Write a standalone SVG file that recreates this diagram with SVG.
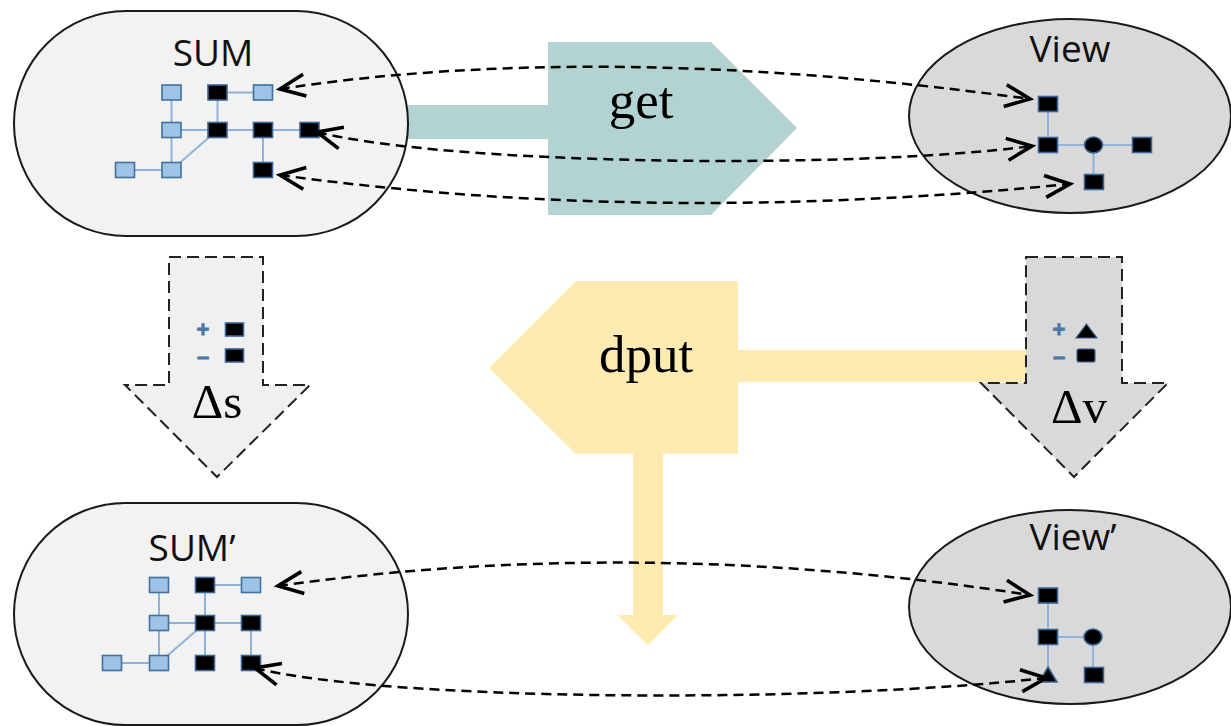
<svg xmlns="http://www.w3.org/2000/svg" width="1231" height="726" viewBox="0 0 1231 726">
<defs>
<style>
.sum{fill:#f2f2f2;stroke:#1a1a1a;stroke-width:2}
.view{fill:#d9d9d9;stroke:#1a1a1a;stroke-width:2}
.lbl{font-family:"Open Sans","Noto Sans",sans-serif;font-size:37px;fill:#111;text-anchor:middle}
.big{font-family:"Liberation Serif",serif;font-size:53px;fill:#000;text-anchor:middle}
.delta{font-family:"Liberation Serif",serif;font-size:49px;fill:#000;text-anchor:middle}
.e{stroke:#8fb3da;stroke-width:2;fill:none}
.b{fill:#9dc3e6;stroke:#41719c;stroke-width:1.6}
.k{fill:#000;stroke:#3b6494;stroke-width:1.6}
.conn{fill:none;stroke:#000;stroke-width:2.5;stroke-dasharray:10 6;marker-start:url(#chev);marker-end:url(#chev)}
.dash{stroke:#222;stroke-width:2;stroke-dasharray:12 6}
.pm{font-family:"Liberation Sans",sans-serif;font-size:22px;font-weight:bold;fill:#4a78a8;text-anchor:middle;stroke:#4a78a8;stroke-width:0.8}
</style>
<marker id="chev" viewBox="-30 -16 34 32" refX="0" refY="0" markerWidth="34" markerHeight="32" markerUnits="userSpaceOnUse" orient="auto-start-reverse">
<path d="M-25,-11 L0,0 L-25,11" fill="none" stroke="#000" stroke-width="3.6" stroke-dasharray="none"/>
</marker>
</defs>

<g id="get">
<rect x="400" y="105" width="150" height="34" fill="#b3d3d3"/>
<polygon points="548,42 711,42 797,128 711,215 548,215" fill="#b3d3d3"/>
<text class="big" x="641" y="118">get</text>
</g>

<g id="dput">
<rect x="736" y="350" width="290" height="32" fill="#ffeab2"/>
<rect x="633" y="452" width="30" height="164" fill="#ffeab2"/>
<polygon points="617,615 678,615 648,645" fill="#ffeab2"/>
<polygon points="489,368 576,281 738,281 738,454 576,454" fill="#ffeab2"/>
<text class="big" x="646" y="372">dput</text>
</g>

<g id="SUM">
<rect class="sum" x="14" y="11" width="394" height="225" rx="112" ry="112"/>
<text class="lbl" x="213" y="66">SUM</text>
<path class="e" d="M171.5,92.5 V170 M171.5,130 H309.5 M217.5,92.5 V130 M217.5,92.5 H263 M263,130 V170 M125,170 H171.5 M171.5,170 L217.5,130"/>
<rect class="b" x="162" y="85" width="19" height="15"/>
<rect class="k" x="208" y="85" width="19" height="15"/>
<rect class="b" x="253.5" y="85" width="19" height="15"/>
<rect class="b" x="162" y="122.5" width="19" height="15"/>
<rect class="k" x="208" y="122.5" width="19" height="15"/>
<rect class="k" x="253.5" y="122.5" width="19" height="15"/>
<rect class="k" x="300" y="122.5" width="19" height="15"/>
<rect class="b" x="115.5" y="162.5" width="19" height="15"/>
<rect class="b" x="162" y="162.5" width="19" height="15"/>
<rect class="k" x="253.5" y="162.5" width="19" height="15"/>
</g>

<g id="View">
<ellipse class="view" cx="1070" cy="116" rx="161" ry="97"/>
<text class="lbl" x="1070" y="62">View</text>
<path class="e" d="M1048,104 V145 M1048,145 H1142 M1093.5,145 V182"/>
<rect class="k" x="1038.5" y="96.5" width="19" height="15"/>
<rect class="k" x="1038.5" y="137.5" width="19" height="15"/>
<ellipse cx="1093.5" cy="145" rx="9" ry="8" fill="#000" stroke="#3b6494" stroke-width="1.6"/>
<rect class="k" x="1132.5" y="137.5" width="19" height="15"/>
<rect class="k" x="1084.5" y="174.5" width="19" height="15"/>
</g>

<g id="delta-s">
<polygon class="dash" points="169,257 263,257 263,385 310,385 217,477 125,385 169,385" fill="#f0f0f0"/>
<text class="pm" x="203" y="337">+</text>
<text class="pm" x="203" y="364">–</text>
<rect class="k" x="225.5" y="323" width="18" height="13"/>
<rect class="k" x="225.5" y="349" width="18" height="13"/>
<text class="delta" x="217" y="418">Δs</text>
</g>

<g id="delta-v">
<polygon class="dash" points="1026,257 1122,257 1122,383 1168,383 1074,477 981,383 1026,383" fill="#d9d9d9"/>
<text class="pm" x="1059" y="337">+</text>
<text class="pm" x="1059" y="364">–</text>
<polygon points="1086.5,324 1097,338 1076,338" fill="#000" stroke="#3b6494" stroke-width="1.2"/>
<rect x="1077" y="349" width="18" height="13" rx="2" fill="#000" stroke="#3b6494" stroke-width="1.2"/>
<text class="delta" x="1079" y="423">Δv</text>
</g>

<g id="SUM2">
<rect class="sum" x="14" y="503" width="394" height="222" rx="111" ry="111"/>
<text class="lbl" x="192" y="561">SUM’</text>
<path class="e" d="M159,585 V663 M159,623 H251 M205,585 V663 M205,585 H251 M251,623 V663 M112,663 H159 M159,663 L205,623"/>
<rect class="b" x="149.5" y="577.5" width="19" height="15"/>
<rect class="k" x="195.5" y="577.5" width="19" height="15"/>
<rect class="b" x="241.5" y="577.5" width="19" height="15"/>
<rect class="b" x="149.5" y="615.5" width="19" height="15"/>
<rect class="k" x="195.5" y="615.5" width="19" height="15"/>
<rect class="k" x="241.5" y="615.5" width="19" height="15"/>
<rect class="b" x="102.5" y="655.5" width="19" height="15"/>
<rect class="b" x="149.5" y="655.5" width="19" height="15"/>
<rect class="k" x="195.5" y="655.5" width="19" height="15"/>
<rect class="k" x="241.5" y="655.5" width="19" height="15"/>
</g>

<g id="View2">
<ellipse class="view" cx="1070" cy="607" rx="161" ry="97"/>
<text class="lbl" x="1073" y="550">View’</text>
<path class="e" d="M1048,595 V675 M1048,637 H1093 M1093,637 V675"/>
<rect class="k" x="1038.5" y="588" width="19" height="15"/>
<rect class="k" x="1038.5" y="629.5" width="19" height="15"/>
<ellipse cx="1093" cy="637" rx="9" ry="8" fill="#000" stroke="#3b6494" stroke-width="1.6"/>
<polygon points="1048,667 1057,682 1039,682" fill="#000" stroke="#3b6494" stroke-width="1.6"/>
<rect class="k" x="1084.5" y="667.5" width="19" height="15"/>
</g>

<g id="connectors">
<path class="conn" d="M280,89 Q600,40 1030,99"/>
<path class="conn" d="M317,132 C450,165 850,170 1032,146"/>
<path class="conn" d="M280,175 Q650,226 1070,184"/>
<path class="conn" d="M278,586 Q640,535 1030,595"/>
<path class="conn" d="M255,668 C380,700 800,705 1046,678"/>
</g>
</svg>
